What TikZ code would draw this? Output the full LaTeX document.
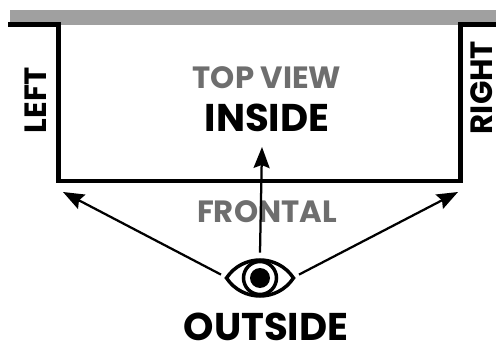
\documentclass[tikz,border=0pt]{standalone}
\usepackage{fontspec}
\setmainfont{Poppins}
\usetikzlibrary{arrows.meta,positioning,shapes.geometric}
\definecolor{wallgray}{HTML}{A0A0A0}
\definecolor{labelgray}{HTML}{6E6E6E}
\begin{document}
\begin{tikzpicture}[
    >={Stealth[length=0.42cm,width=0.32cm,inset=0.06cm]},
    wall/.style={line width=0.09cm, black, line join=miter},
    bigtext/.style={font=\fontsize{22}{24}\selectfont\bfseries, text=black, inner sep=0pt},
    graytext/.style={font=\fontsize{17.5}{19}\selectfont\bfseries, text=labelgray, inner sep=0pt},
    sidetext/.style={font=\fontsize{17.5}{19}\selectfont\bfseries, text=black, inner sep=0pt, rotate=90},
    sight/.style={->, line width=0.045cm, black},
    eyeline/.style={line width=0.07cm, black},
]
\useasboundingbox (0,0) rectangle (9.92,6.86);

% Gray bar and room
\fill[wallgray] (0.2,6.36) rectangle (9.92,6.66);
\draw[wall] (0.17,6.37) -- (1.17,6.37) -- (1.17,3.24) -- (9.21,3.24) -- (9.21,6.37) -- (9.92,6.37);

% Labels
\node[graytext] (topview) at (5.34,5.30) {TOP VIEW};
\node[bigtext] (inside) at (5.34,4.50) {INSIDE};
\node[graytext] (frontal) at (5.34,2.62) {FRONTAL};
\node[bigtext] (outside) at (5.32,0.33) {OUTSIDE};
\node[sidetext] (left) at (0.71,4.86) {LEFT};
\node[sidetext] (right) at (9.63,5.11) {RIGHT};

% Eye
\node[ellipse, minimum width=1.56cm, minimum height=1.0cm, inner sep=0pt] (eye) at (5.20,1.30) {};
\draw[eyeline] (4.53,1.30) .. controls (4.85,1.78) and (5.55,1.78) .. (5.87,1.30)
    .. controls (5.55,0.82) and (4.85,0.82) .. (4.53,1.30) -- cycle;
\draw[eyeline] (eye.center) circle (0.33);
\fill (eye.center) circle (0.2);

% Arrow targets
\coordinate (leftend) at (1.26,3.02);
\coordinate (rightend) at (9.16,3.02);
\coordinate (topend) at (5.24,3.92);

% Sight lines
\draw[sight] (eye.175) -- (leftend);
\draw[sight] (eye.5) -- (rightend);
\draw[sight] (eye.north) -- (topend);
\end{tikzpicture}
\end{document}
